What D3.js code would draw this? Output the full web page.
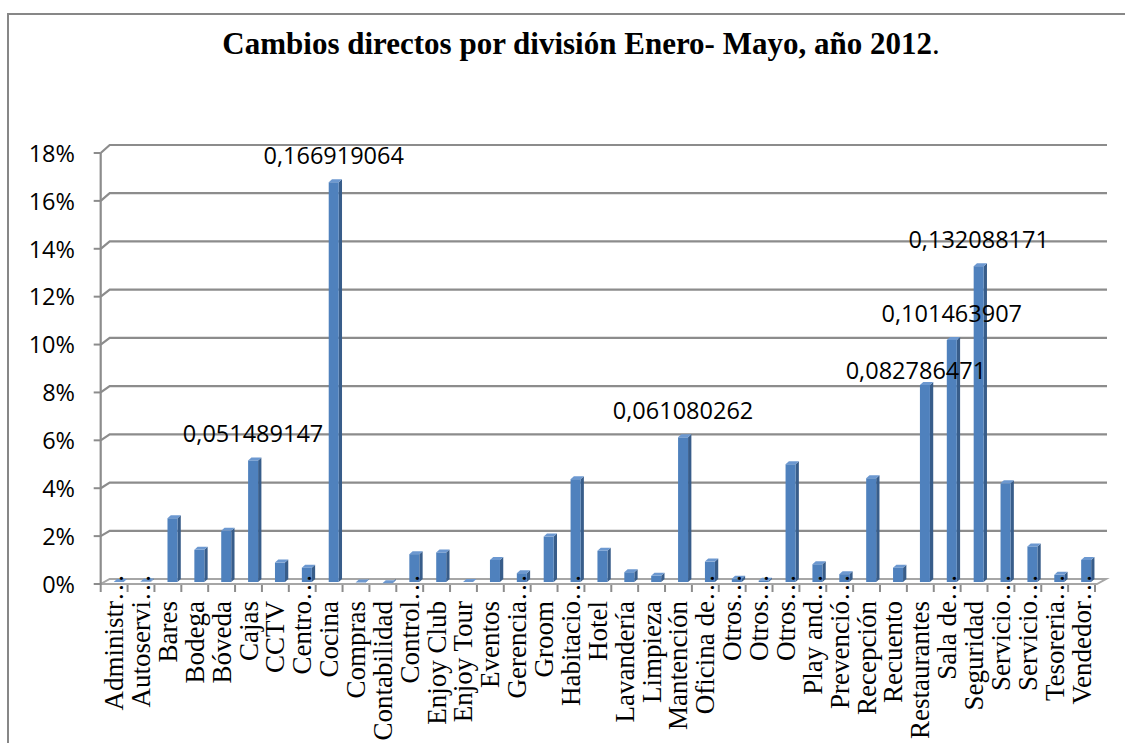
<!DOCTYPE html>
<html><head><meta charset="utf-8">
<script src="https://cdn.jsdelivr.net/npm/d3@7/dist/d3.min.js"></script>
<style>
html,body{margin:0;padding:0;background:#fff;}
svg{display:block;}
</style></head>
<body>
<svg id="chart" width="1125" height="743"></svg>
<script>
const categories = ["Administr…","Autoservi…","Bares","Bodega","Bóveda","Cajas","CCTV","Centro…","Cocina","Compras","Contabilidad","Control…","Enjoy Club","Enjoy Tour","Eventos","Gerencia…","Groom","Habitacio…","Hotel","Lavandería","Limpieza","Mantención","Oficina de…","Otros…","Otros…","Otros…","Play and…","Prevenció…","Recepción","Recuento","Restaurantes","Sala de…","Seguridad","Servicio…","Servicio…","Tesoreria…","Vendedor…"];
const values = [0.0010,0.0012,0.0275,0.0144,0.0223,0.051489147,0.0091,0.0070,0.166919064,0.0008,0.0005,0.0126,0.0133,0.0010,0.0102,0.0047,0.0199,0.0437,0.0140,0.0051,0.0036,0.061080262,0.0095,0.0024,0.0016,0.0499,0.0084,0.0043,0.0441,0.0070,0.082786471,0.101463907,0.132088171,0.0420,0.0158,0.0040,0.0102];
const labelledIndex = [5,8,21,30,31,32];
const yTicks = [0,0.02,0.04,0.06,0.08,0.10,0.12,0.14,0.16,0.18];
const title = "Cambios directos por división Enero- Mayo, año 2012";

const svg = d3.select("#chart");
// outer frame
svg.append("rect").attr("x",8).attr("y",14).attr("width",1130).attr("height",740)
  .attr("fill","none").attr("stroke","#878787").attr("stroke-width",2);

// title
const t = svg.append("text").attr("x",581).attr("y",54).attr("text-anchor","middle")
  .attr("font-family","'Liberation Serif','Times New Roman',serif").attr("font-size",31);
t.append("tspan").attr("font-weight","bold").text(title);
t.append("tspan").text(".");

// 3D geometry
const depthX = 9;
const x = d3.scaleBand().domain(d3.range(categories.length)).range([100.7,1095]).padding(0);
const yFront = d3.scaleLinear().domain([0,0.18]).range([584,153]);
const yBack  = d3.scaleLinear().domain([0,0.18]).range([579,145]);
const yBar   = d3.scaleLinear().domain([0,0.18]).range([584.5,150.7]);
const grid = "#8c8c8c";

// floor
const x0 = x.range()[0], x1 = x.range()[1];
svg.append("path")
  .attr("d",`M${x0},${yFront(0)}L${x1+2},${yFront(0)}L${x1+2+depthX},${yBack(0)}L${x0+depthX},${yBack(0)}Z`)
  .attr("fill","#fff").attr("stroke","#a6a6a6").attr("stroke-width",2);

// gridlines
const g = svg.append("g");
yTicks.forEach(v=>{
  if (v>0) g.append("path")
    .attr("d",`M${x0},${yFront(v)}L${x0+depthX},${yBack(v)}L${x1+12},${yBack(v)}`)
    .attr("fill","none").attr("stroke",grid).attr("stroke-width",2.2);
  g.append("line").attr("x1",x0-7).attr("x2",x0).attr("y1",yFront(v)).attr("y2",yFront(v))
    .attr("stroke",grid).attr("stroke-width",2);
});
// left wall front edge
g.append("line").attr("x1",x0).attr("x2",x0).attr("y1",yFront(0.18)).attr("y2",yFront(0)+1)
  .attr("stroke",grid).attr("stroke-width",2.2);

// y axis labels
const yAxis = d3.axisLeft(yFront).tickValues(yTicks).tickFormat(d3.format(".0%")).tickSize(0).tickPadding(0);
const ya = svg.append("g").attr("transform","translate(75,0)").call(yAxis);
ya.select(".domain").remove();
ya.selectAll("text").attr("font-family","'Open Sans',sans-serif").attr("font-size",23.5).attr("fill","#000").attr("dy","0.35em");

// x category ticks at boundaries
d3.range(categories.length+1).forEach(i=>{
  const xx = x0 + i*x.bandwidth();
  svg.append("line").attr("x1",xx).attr("x2",xx).attr("y1",yFront(0)+1).attr("y2",yFront(0)+8)
    .attr("stroke",grid).attr("stroke-width",2);
});

// bars
const bw = 10, side = 3.3, topH = 3;
const bars = svg.append("g");
values.forEach((v,i)=>{
  const cx = x(i) + x.bandwidth()/2 + 4.6;
  const left = cx - bw/2, right = cx + bw/2;
  const yt = yBar(v), yb = 582;
  bars.append("path").attr("d",`M${right},${yb}L${right+side},${yb-topH}L${right+side},${yt-topH}L${right},${yt}Z`).attr("fill","#385d8a");
  bars.append("rect").attr("x",left).attr("y",yt).attr("width",bw).attr("height",Math.max(0,yb-yt)).attr("fill","#4f81bd");
  bars.append("path").attr("d",`M${left},${yt}L${left+side},${yt-topH}L${right+side},${yt-topH}L${right},${yt}Z`).attr("fill","#6c98d0");
});

// data labels
const nudge = {30:[-9,12]};
const fmt = v => v.toFixed(9).replace(".",",");
labelledIndex.forEach(i=>{
  const n = nudge[i] || [0,0];
  svg.append("text").attr("x", x(i)+x.bandwidth()/2+4.6+n[0]).attr("y", yBar(values[i])-18+n[1])
    .attr("text-anchor","middle").attr("font-family","'Open Sans',sans-serif").attr("font-size",23.5)
    .attr("fill","#000").text(fmt(values[i]));
});

// x axis labels
const xAxis = d3.axisBottom(x).tickFormat(i=>categories[i]).tickSize(0).tickPadding(0);
const xa = svg.append("g").attr("transform",`translate(0,${yFront(0)})`).call(xAxis);
xa.select(".domain").remove();
const labelFont = 27;
xa.selectAll("text")
  .attr("transform","rotate(-90)")
  .attr("text-anchor","end")
  .attr("y",9).attr("dy",0)
  .attr("font-family","'Liberation Serif','Times New Roman',serif").attr("font-size",labelFont).attr("fill","#000")
  .attr("x", function(i){ return categories[i].endsWith("…") ? -17 + labelFont : -17; });
</script>
</body></html>
